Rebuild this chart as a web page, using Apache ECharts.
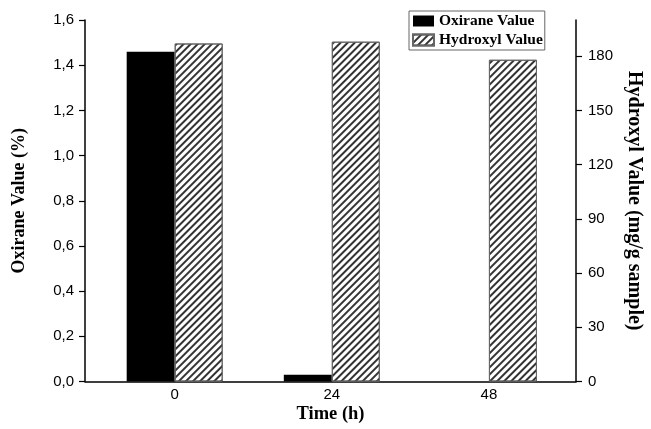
<!DOCTYPE html>
<html>
<head>
<meta charset="utf-8">
<script src="https://cdn.jsdelivr.net/npm/echarts@6/dist/echarts.min.js"></script>
<style>
  html, body { margin: 0; padding: 0; background: #fff; }
  #chart { width: 651px; height: 429px; }
</style>
</head>
<body>
<div id="chart"></div>
<script>
// time points (h)
const times = [0, 24, 48]
// oxirane value (%)
const oxirane = [1.46, 0.03, 0]
// hydroxyl value (mg/g sample)
const hydroxyl = [187, 188, 178]
const rightTicks = [0, 30, 60, 90, 120, 150, 180]

const serif = "'Liberation Serif', 'Times New Roman', serif"
const sans = "'Liberation Sans', Arial, sans-serif"

const axisLine = { show: true, onZero: false, lineStyle: { color: '#000', width: 1.5 } }
const titleStyle = { fontFamily: serif, fontWeight: 'bold', fontSize: 18, color: '#000' }
const tickLabel = { fontFamily: sans, fontSize: 15, color: '#000' }

const chart = echarts.init(document.getElementById('chart'), null, { renderer: 'canvas' })

chart.setOption({
  animation: false,
  backgroundColor: '#fff',
  grid: { left: 85, right: 75, top: 20, bottom: 47.5, outerBoundsMode: 'none', containLabel: false },
  legend: {
    orient: 'vertical',
    left: 409,
    top: 11,
    padding: [2, 2, 2, 3],
    itemGap: 3,
    itemWidth: 21,
    itemHeight: 11,
    borderColor: '#666',
    borderWidth: 1,
    borderRadius: 0,
    textStyle: { fontFamily: serif, fontWeight: 'bold', fontSize: 15.5, color: '#000' },
    data: [
      { name: 'Oxirane Value', icon: 'rect' },
      { name: 'Hydroxyl Value', icon: 'rect' },
    ],
  },
  xAxis: {
    type: 'value',
    min: -13.7,
    max: 61.3,
    name: 'Time (h)',
    nameLocation: 'middle',
    nameGap: 23,
    nameMoveOverlap: false,
    nameTextStyle: { ...titleStyle, fontSize: 18.5 },
    axisLine,
    axisTick: { show: false },
    splitLine: { show: false },
    axisLabel: { ...tickLabel, customValues: times, margin: 6 },
  },
  yAxis: [
    {
      type: 'value',
      min: 0,
      max: 1.6,
      interval: 0.2,
      name: 'Oxirane Value (%)',
      nameLocation: 'middle',
      nameGap: 57,
      nameTextStyle: titleStyle,
      axisLine,
      axisTick: { show: true, inside: false, length: 6, lineStyle: { color: '#000', width: 1.2 } },
      splitLine: { show: false },
      axisLabel: {
        ...tickLabel,
        margin: 11,
        formatter: (v) => v.toFixed(1).replace('.', ','),
      },
    },
    {
      type: 'value',
      min: 0,
      max: 200,
      position: 'right',
      name: 'Hydroxyl Value (mg/g sample)',
      nameLocation: 'middle',
      nameRotate: -90,
      nameGap: 47,
      nameTextStyle: { ...titleStyle, fontSize: 20 },
      axisLine,
      axisTick: { show: true, inside: false, length: 6, customValues: rightTicks, lineStyle: { color: '#000', width: 1.2 } },
      splitLine: { show: false },
      axisLabel: { ...tickLabel, customValues: rightTicks, margin: 12 },
    },
  ],
  series: [
    {
      name: 'Oxirane Value',
      type: 'bar',
      yAxisIndex: 0,
      barWidth: 48,
      barGap: '0%',
      itemStyle: { color: '#000', borderWidth: 0 },
      data: times.map((t, i) => [t, oxirane[i]]),
    },
    {
      name: 'Hydroxyl Value',
      type: 'bar',
      yAxisIndex: 1,
      barWidth: 48,
      barGap: '0%',
      itemStyle: {
        color: '#fff',
        borderColor: '#666',
        borderWidth: 1,
        decal: {
          symbol: 'rect',
          symbolSize: 1,
          dashArrayX: [1, 0],
          dashArrayY: [1.5, 2.5],
          rotation: -Math.PI / 4,
          color: '#333',
        },
      },
      data: times.map((t, i) => [t, hydroxyl[i]]),
    },
  ],
})
</script>
</body>
</html>
